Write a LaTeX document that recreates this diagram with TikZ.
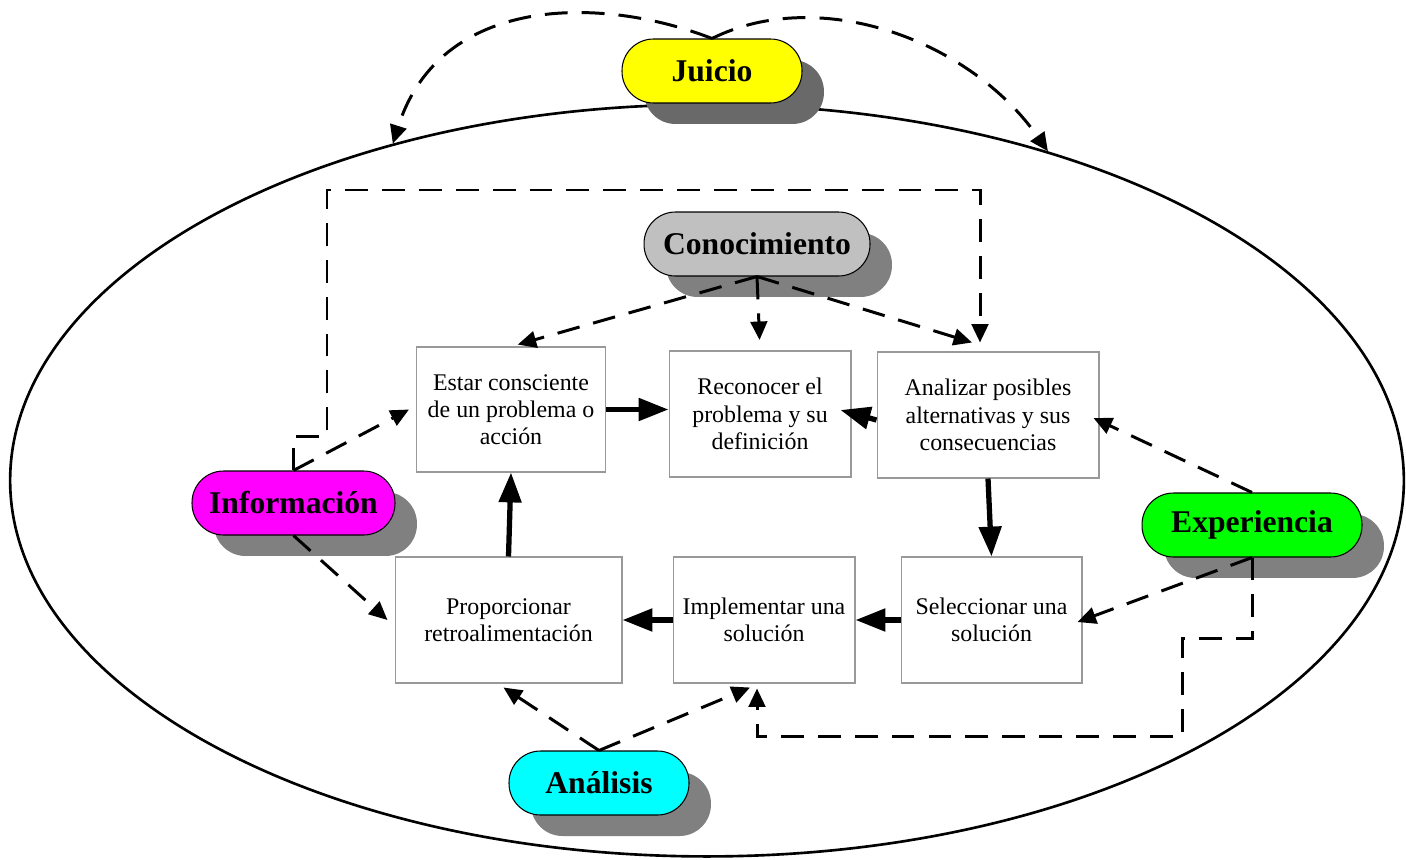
\documentclass[tikz,border=0pt]{standalone}
\usepackage{fontspec}
\setmainfont{Liberation Serif}
\usetikzlibrary{
  arrows.meta,
  shapes.geometric,
  shadows
}
\definecolor{juicio}{RGB}{255,255,0}
\definecolor{conoc}{RGB}{192,192,192}
\definecolor{info}{RGB}{255,0,255}
\definecolor{exper}{RGB}{0,255,0}
\definecolor{analis}{RGB}{0,255,255}
\definecolor{pillshadow}{RGB}{128,128,128}
\definecolor{pilldark}{RGB}{105,105,105}

\begin{document}
\begin{tikzpicture}[x=0.02cm, y=-0.02cm,
  stage/.style={draw=gray!80, line width=.6pt, align=center, inner sep=0pt,
    font=\fontsize{13.6}{15.5}\selectfont, minimum height=2.52cm},
  pill/.style={draw, line width=.6pt, rounded corners=.63cm, inner sep=0pt,
    minimum height=1.28cm, font=\fontsize{18}{20}\selectfont\bfseries,
    drop shadow={shadow xshift=.44cm, shadow yshift=-.42cm, opacity=1, fill=#1}},
  pill/.default=pillshadow,
  flow/.style={line width=3pt, -{Triangle[length=17pt,width=12.5pt]}},
  hint/.style={line width=1.7pt, dash pattern=on 13pt off 8pt,
    -{Triangle[length=10.5pt,width=9.5pt]}}]
  \useasboundingbox (0,0) rectangle (1406,859);

  % big ring
  \node[ellipse, draw, line width=1.5pt, inner sep=0pt,
        minimum width=27.88cm, minimum height=15.04cm] (ring) at (707,480.5) {};

  % factors
  \node[pill=pilldark, fill=juicio, minimum width=3.6cm] (jui) at (712,71) {Juicio};
  \node[pill, fill=conoc, minimum width=4.52cm] (con) at (757,244) {Conocimiento};
  \node[pill, fill=info, minimum width=4.06cm] (inf) at (293.5,503) {Información};
  \node[pill, fill=exper, minimum width=4.4cm] (exp) at (1252,525) {Experiencia};
  \node[pill, fill=analis, minimum width=3.6cm] (ana) at (599,783) {Análisis};

  % stages
  \node[stage, minimum width=3.78cm, minimum height=2.5cm] (b1) at (511,409.5)
    {Estar consciente\\de un problema o\\acción};
  \node[stage, minimum width=3.64cm] (b2) at (760,414)
    {Reconocer el\\problema y su\\definición};
  \node[stage, minimum width=4.44cm] (b3) at (988,415)
    {Analizar posibles\\alternativas y sus\\consecuencias};
  \node[stage, minimum width=3.62cm] (b4) at (991.5,620)
    {Seleccionar una\\solución};
  \node[stage, minimum width=3.64cm] (b5) at (764,620)
    {Implementar una\\solución};
  \node[stage, minimum width=4.54cm] (b6) at (508.5,620)
    {Proporcionar\\retroalimentación};

  % main cycle
  \draw[flow] (b1.east) -- (b1.east -| b2.west);
  \draw[flow] ([yshift=-.1cm]b3.west) -- ([xshift=-.22cm,yshift=.08cm]b2.east);
  \draw[flow] (b3.south) -- (b4.north);
  \draw[flow] (b4.west) -- (b5.east);
  \draw[flow] (b5.west) -- (b6.east);
  \draw[flow] (b6.north) -- (b1.south);

  % judgement
  \draw[hint] (jui.north) .. controls (600,-5) and (440,-5) .. (ring.133);
  \draw[hint] (jui.north) .. controls (820,-15) and (970,40) .. (ring.44);

  % knowledge
  \draw[hint, shorten >=4pt] (con.south) -- (b1.north);
  \draw[hint, shorten >=6pt] (con.south) -- (b2.north);
  \draw[hint] (con.south) -- ([xshift=-.32cm,yshift=.18cm]b3.north);

  % information
  \coordinate (loopA) at (327,190);
  \coordinate (loopB) at (980,190);
  \draw[hint] (inf.north) -- ++(0,-34) -| (loopA) -- (loopB)
    -- ([yshift=.18cm]loopB |- b3.north);
  \draw[hint] (inf.north) -- ([xshift=-.14cm]b1.west);
  \draw[hint] (inf.south) -- ([xshift=-.14cm]b6.west);

  % experience
  \draw[hint] (exp.north) -- ([xshift=-.12cm,yshift=-.06cm]b3.east);
  \draw[hint] (exp.south) -- ([xshift=-.1cm,yshift=-.04cm]b4.east);
  \draw[hint] (exp.south) -- ++(0,81) -| ++(-70,98)
    -| ([xshift=-.14cm,yshift=-.1cm]b5.south);

  % analysis
  \draw[hint] (ana.north) -- ([xshift=-.1cm,yshift=-.08cm]b6.south);
  \draw[hint] (ana.north) -- ([xshift=-.28cm,yshift=-.08cm]b5.south);
\end{tikzpicture}
\end{document}
